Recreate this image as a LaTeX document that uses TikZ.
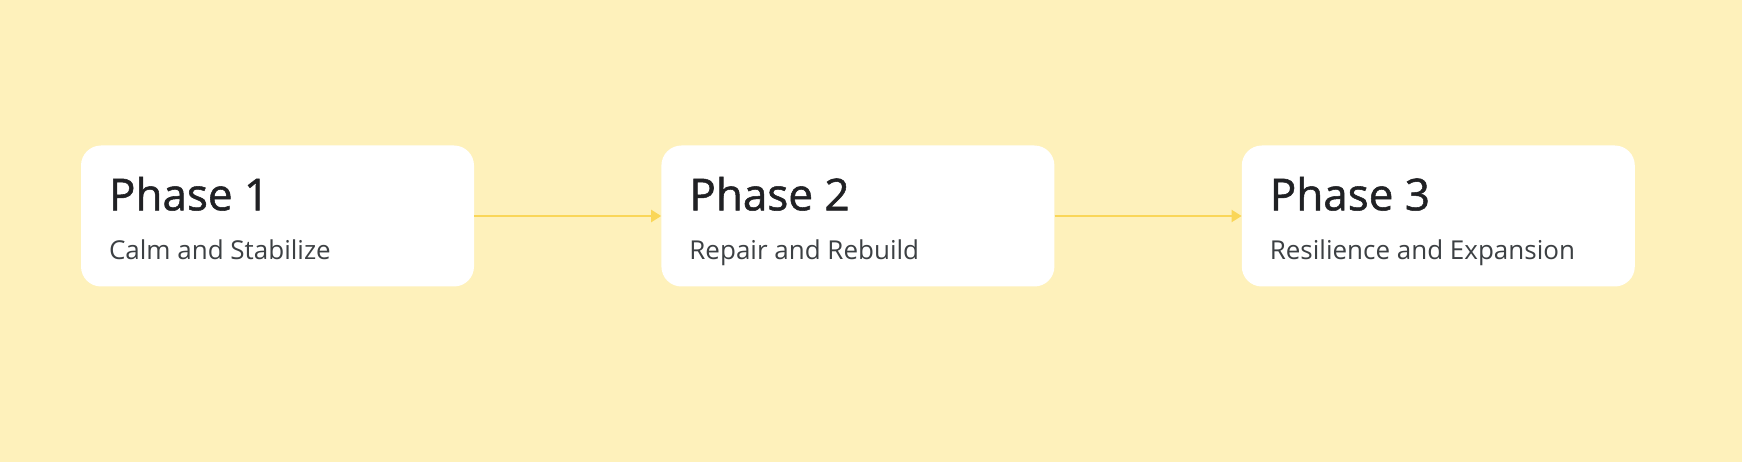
\documentclass[tikz,border=0pt]{standalone}
\usepackage{fontspec}
\setmainfont{Open Sans}
\newfontfamily\phasefont{Open Sans}[FakeBold=1.2]
\usetikzlibrary{positioning, arrows.meta}
\definecolor{bgyellow}{RGB}{254,241,187}
\definecolor{arrowyellow}{RGB}{250,214,88}
\definecolor{titlegray}{RGB}{32,33,36}
\definecolor{subgray}{RGB}{60,64,67}
\tikzset{
x=1pt, y=1pt, % one unit is one pixel of the picture
node distance=187pt, % gap between two phase boxes
phase/.style={rectangle, rounded corners=20pt, fill=white, minimum width=393pt, minimum height=141pt, inner sep=0pt}, % the white box
phasetitle/.style={anchor=base west, inner sep=0pt, text=titlegray, font=\phasefont\fontsize{44}{50}\selectfont}, % big heading
phasesub/.style={anchor=base west, inner sep=0pt, text=subgray, font=\fontsize{26}{30}\selectfont}, % line under it
flow/.style={-{Triangle[length=10pt,width=12pt]}, arrowyellow, line width=2pt}, % connector between boxes
}
\begin{document}
\begin{tikzpicture}
    \fill[bgyellow] (0,0) rectangle (1742,-462);
    \useasboundingbox (0,0) rectangle (1742,-462);
    \node[phase] (p1) at (277.5,-216) {};
    \node[phase, right=of p1] (p2) {};
    \node[phase, right=of p2] (p3) {};
    \node[phasetitle] (t1) at ([shift={(28,-65)}]p1.north west) {Phase 1};
    \node[phasesub] (s1) at ([shift={(28,-114)}]p1.north west) {Calm and Stabilize};
    \node[phasetitle] (t2) at ([shift={(28,-65)}]p2.north west) {Phase 2};
    \node[phasesub] (s2) at ([shift={(28,-114)}]p2.north west) {Repair and Rebuild};
    \node[phasetitle] (t3) at ([shift={(28,-65)}]p3.north west) {Phase 3};
    \node[phasesub] (s3) at ([shift={(28,-114)}]p3.north west) {Resilience and Expansion};
    \draw[flow] (p1.east) -- (p2.west);
    \draw[flow] (p2.east) -- (p3.west);
  \end{tikzpicture}
\end{document}
